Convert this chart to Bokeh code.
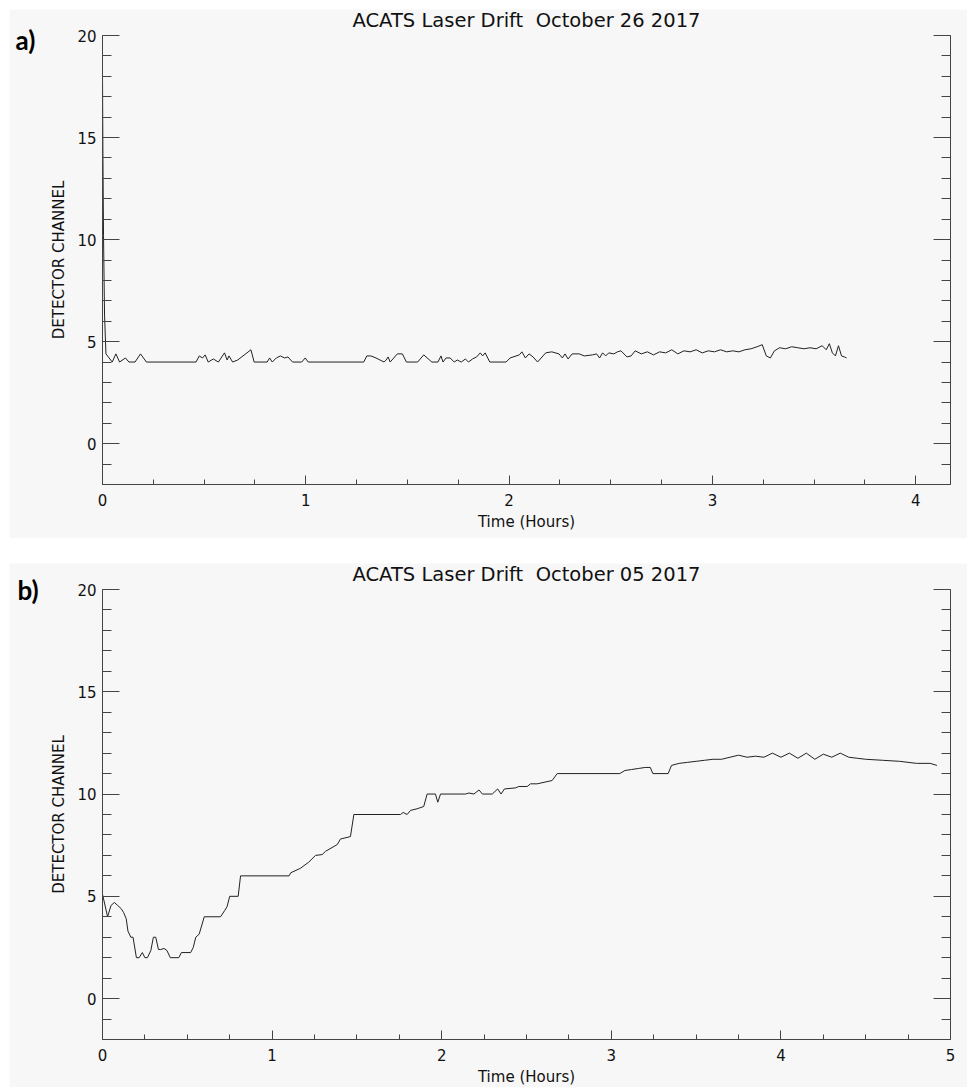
from bokeh.plotting import figure
from bokeh.models import Range1d, LinearAxis, FixedTicker, Label
from bokeh.layouts import column
from bokeh.embed import file_html
from bokeh.resources import INLINE

# ---- October 26 2017 run: time (hours) vs detector channel ----
oct26_hours = [
    0.000, 0.002, 0.005, 0.010, 0.017, 0.048, 0.066, 0.084, 0.113, 0.130,
    0.160, 0.187, 0.216, 0.460, 0.476, 0.492, 0.505, 0.520, 0.545, 0.570,
    0.600, 0.613, 0.622, 0.640, 0.665, 0.730, 0.746, 0.810, 0.822, 0.835,
    0.855, 0.875, 0.895, 0.912, 0.935, 0.980, 0.997, 1.012, 1.285, 1.300,
    1.320, 1.345, 1.385, 1.395, 1.405, 1.415, 1.450, 1.475, 1.495, 1.550,
    1.580, 1.620, 1.650, 1.665, 1.675, 1.690, 1.710, 1.730, 1.745, 1.765,
    1.785, 1.800, 1.820, 1.840, 1.858, 1.870, 1.882, 1.905, 1.985, 2.005,
    2.050, 2.063, 2.080, 2.098, 2.118, 2.140, 2.180, 2.210, 2.245, 2.262,
    2.275, 2.290, 2.310, 2.345, 2.370, 2.410, 2.430, 2.445, 2.460, 2.475,
    2.490, 2.515, 2.533, 2.550, 2.580, 2.600, 2.620, 2.650, 2.680, 2.710,
    2.740, 2.770, 2.800, 2.830, 2.860, 2.890, 2.920, 2.950, 2.980, 3.010,
    3.040, 3.070, 3.100, 3.130, 3.160, 3.190, 3.220, 3.245, 3.265, 3.285,
    3.305, 3.330, 3.360, 3.390, 3.420, 3.450, 3.480, 3.510, 3.540, 3.560,
    3.575, 3.590, 3.605, 3.620, 3.635, 3.650, 3.660,
]
oct26_channel = [
    18.1, 14.2, 10.2, 6.3, 4.4, 4.0, 4.4, 4.0, 4.2, 4.0,
    4.0, 4.4, 4.0, 4.0, 4.3, 4.2, 4.35, 4.0, 4.15, 4.0,
    4.45, 4.1, 4.3, 4.0, 4.1, 4.6, 4.0, 4.0, 4.2, 4.0,
    4.2, 4.3, 4.2, 4.25, 4.0, 4.0, 4.2, 4.0, 4.0, 4.3,
    4.3, 4.2, 4.0, 4.1, 4.25, 4.0, 4.4, 4.4, 4.0, 4.0,
    4.35, 4.0, 4.0, 4.3, 4.0, 4.2, 4.2, 4.0, 4.1, 4.0,
    4.15, 4.0, 4.15, 4.25, 4.45, 4.3, 4.45, 4.0, 4.0, 4.2,
    4.35, 4.5, 4.2, 4.4, 4.25, 4.0, 4.45, 4.5, 4.4, 4.2,
    4.4, 4.15, 4.4, 4.4, 4.3, 4.35, 4.4, 4.2, 4.45, 4.3,
    4.45, 4.4, 4.5, 4.55, 4.25, 4.3, 4.55, 4.4, 4.5, 4.35,
    4.5, 4.45, 4.6, 4.4, 4.55, 4.5, 4.6, 4.45, 4.55, 4.5,
    4.6, 4.5, 4.55, 4.5, 4.6, 4.65, 4.75, 4.85, 4.3, 4.2,
    4.55, 4.7, 4.65, 4.75, 4.7, 4.65, 4.7, 4.65, 4.8, 4.6,
    4.9, 4.45, 4.3, 4.8, 4.3, 4.25, 4.2,
]

# ---- October 05 2017 run ----
oct05_hours = [
    0.000, 0.030, 0.050, 0.070, 0.090, 0.110, 0.125, 0.140, 0.150, 0.167,
    0.180, 0.200, 0.216, 0.235, 0.250, 0.265, 0.285, 0.300, 0.314, 0.330,
    0.343, 0.363, 0.380, 0.400, 0.450, 0.465, 0.520, 0.535, 0.550, 0.570,
    0.600, 0.696, 0.720, 0.735, 0.750, 0.800, 0.814, 1.100, 1.110, 1.167,
    1.216, 1.256, 1.295, 1.315, 1.384, 1.403, 1.462, 1.482, 1.757, 1.773,
    1.796, 1.816, 1.855, 1.894, 1.914, 1.963, 1.977, 1.993, 2.140, 2.160,
    2.190, 2.220, 2.240, 2.298, 2.330, 2.350, 2.370, 2.435, 2.455, 2.504,
    2.524, 2.563, 2.651, 2.681, 3.050, 3.080, 3.120, 3.160, 3.200, 3.230,
    3.245, 3.335, 3.355, 3.400, 3.450, 3.500, 3.550, 3.600, 3.650, 3.700,
    3.750, 3.800, 3.850, 3.900, 3.950, 4.000, 4.050, 4.100, 4.150, 4.200,
    4.250, 4.300, 4.350, 4.400, 4.450, 4.500, 4.600, 4.700, 4.800, 4.880,
    4.920,
]
oct05_channel = [
    5.1, 4.0, 4.55, 4.7, 4.55, 4.4, 4.2, 3.9, 3.3, 3.0,
    3.0, 2.0, 2.0, 2.25, 2.0, 2.0, 2.35, 3.0, 3.0, 2.4,
    2.4, 2.45, 2.35, 2.0, 2.0, 2.25, 2.25, 2.5, 3.0, 3.15,
    4.0, 4.0, 4.3, 4.5, 5.0, 5.0, 6.0, 6.0, 6.15, 6.37,
    6.67, 7.0, 7.04, 7.2, 7.53, 7.8, 7.92, 9.0, 9.0, 9.1,
    9.0, 9.2, 9.28, 9.39, 10.0, 10.0, 9.6, 10.0, 10.0, 10.05,
    10.0, 10.2, 10.0, 10.0, 10.25, 10.0, 10.25, 10.3, 10.37, 10.37,
    10.5, 10.5, 10.66, 11.0, 11.0, 11.15, 11.2, 11.25, 11.3, 11.3,
    11.0, 11.0, 11.4, 11.5, 11.55, 11.6, 11.65, 11.7, 11.7, 11.8,
    11.9, 11.8, 11.85, 11.8, 12.0, 11.8, 12.0, 11.75, 12.0, 11.7,
    11.95, 11.8, 12.0, 11.8, 11.75, 11.7, 11.65, 11.6, 11.5, 11.5,
    11.4,
]

y_lo, y_hi = -2, 20
y_major = [0, 5, 10, 15, 20]
y_minor = list(range(-2, 21))

BG = "#f7f7f7"
AXIS = "#444444"
INK = "#222222"
FONT = "DejaVu Sans"
FIG_W = 958
NBSP = "\u00a0"


def style_axis(ax, major_len, minor_len):
    ax.major_tick_in = major_len
    ax.major_tick_out = 0
    ax.minor_tick_in = minor_len
    ax.minor_tick_out = 0
    ax.axis_line_color = AXIS
    ax.major_tick_line_color = AXIS
    ax.minor_tick_line_color = AXIS
    ax.axis_line_width = 1
    ax.major_label_text_font = FONT
    ax.major_label_text_font_size = "15px"
    ax.major_label_text_color = "#111111"
    ax.axis_label_text_font = FONT
    ax.axis_label_text_font_style = "normal"
    ax.axis_label_text_color = "#111111"
    ax.axis_label_text_font_size = "15px"


def make_panel(hours, channel, x_max, title, tag, height, box, tag_px):
    """box = (left, top, right, bottom) of the axis box in canvas pixels."""
    left, top, right, bottom = box
    kx = (right - left) / x_max          # px per hour
    ky = (bottom - top) / (y_hi - y_lo)  # px per channel
    x0 = -left / kx
    x1 = x_max + (FIG_W - right) / kx
    y1 = y_hi + top / ky
    y0 = y_lo - (height - bottom) / ky

    p = figure(
        width=FIG_W, height=height,
        x_range=Range1d(x0, x1), y_range=Range1d(y0, y1),
        output_backend="svg", toolbar_location=None,
        x_axis_type=None, y_axis_type=None,
        min_border=0,
        background_fill_color=BG, border_fill_color=BG,
        outline_line_color=None,
    )
    p.grid.visible = False

    x_major = list(range(0, int(x_max) + 1))
    x_minor = [i * 0.25 for i in range(int(x_max * 4) + 1)]

    xa = LinearAxis(ticker=FixedTicker(ticks=x_major, minor_ticks=x_minor),
                    axis_label="Time (Hours)", fixed_location=y_lo,
                    bounds=(0, x_max))
    style_axis(xa, 9, 5)
    xa.major_label_standoff = 9
    xa.axis_label_standoff = 4
    p.add_layout(xa, "below")

    ya = LinearAxis(ticker=FixedTicker(ticks=y_major, minor_ticks=y_minor),
                    axis_label="DETECTOR CHANNEL", fixed_location=0,
                    bounds=(y_lo, y_hi))
    style_axis(ya, 17, 9)
    ya.major_label_standoff = 6
    ya.axis_label_standoff = 6
    p.add_layout(ya, "left")

    # unlabelled right-hand axis with inward ticks
    yr = LinearAxis(ticker=FixedTicker(ticks=y_major, minor_ticks=y_minor),
                    fixed_location=x_max, bounds=(y_lo, y_hi))
    style_axis(yr, 17, 9)
    yr.major_label_overrides = {t: "" for t in y_major}
    p.add_layout(yr, "right")

    p.line(hours, channel, line_color=INK, line_width=1)

    # title centred over the axis box, 15 px above its top edge
    p.add_layout(Label(
        x=x_max / 2, y=y_hi + 15 / ky, text=title,
        text_font=FONT, text_font_size="19.5px", text_color="#111111",
        text_align="center", text_baseline="middle",
    ))
    tx, ty = tag_px
    p.add_layout(Label(
        x=(tx - left) / kx, y=y_hi - (ty - top) / ky, text=tag,
        text_font="Lato", text_font_size="26px", text_font_style="bold",
        text_color="#000000", text_align="left", text_baseline="middle",
    ))
    return p


pa = make_panel(oct26_hours, oct26_channel, 4.171,
                f"ACATS Laser Drift {NBSP}October 26 2017", "a)",
                529, (93, 26, 941, 475), (6, 30))
pb = make_panel(oct05_hours, oct05_channel, 5.0,
                f"ACATS Laser Drift {NBSP}October 05 2017", "b)",
                524, (93, 26, 941, 476), (8, 26))
pa.margin = (9, 0, 0, 9)
pb.margin = (25, 0, 0, 9)

layout = column(pa, pb, spacing=0)

open("out.html", "w").write(file_html(layout, INLINE))
